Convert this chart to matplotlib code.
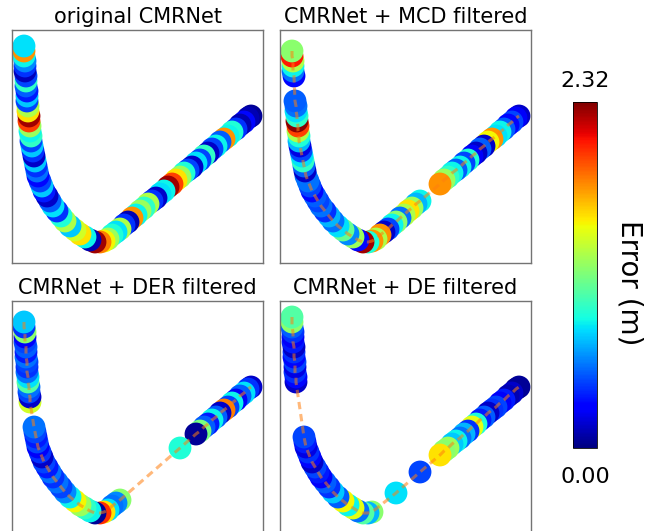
import numpy as np
import matplotlib
matplotlib.use("Agg")
import matplotlib.pyplot as plt
from matplotlib.colors import Normalize
from matplotlib.cm import ScalarMappable

nan = np.nan

# trajectory positions (same path for every panel), top-left start -> right end
path_x = [12, 12, 12, 13, 13, 13, 14, 14, 14, 15, 15, 15, 16, 16, 17, 17, 18, 18, 19, 19, 20, 21, 22, 23, 24, 25, 26,
          28, 30, 32, 35, 38, 41, 45, 49, 53, 58, 63, 68, 73, 78, 83, 88, 92,
          96, 100, 104, 108, 112, 116, 120, 124, 128, 132, 136, 140, 144, 148, 152, 156, 160, 164, 168, 172, 176,
          180, 184, 188, 192, 196, 200, 204, 208, 212, 216, 220, 224, 228, 232, 236, 239]
path_y = [16, 21, 26, 31, 36, 41, 46, 51, 56, 61, 66, 71, 76, 81, 86, 91, 96, 101, 106, 111, 116, 121, 126, 131, 136, 141, 146,
          151, 156, 161, 166, 171, 176, 181, 186, 191, 196, 200, 204, 207, 210, 212, 212, 211,
          209, 205, 202, 199, 195, 192, 188, 185, 181, 178, 174, 171, 168, 164, 161, 157, 154, 150, 147, 143, 140,
          137, 133, 130, 126, 123, 119, 116, 112, 109, 106, 102, 99, 95, 92, 88, 86]

# localisation error per position (m); nan = removed by the filter
err_orig = [0.80, 1.75, 0.85, 0.60, 0.40, 0.12, 0.45, 0.95, 0.50, 0.35, 0.75, 0.45, 1.30, 1.55, 2.25, 1.95, 1.25, 0.85,
            0.95, 0.45, 0.75, 0.40, 0.15, 0.75, 0.40, 0.55, 0.30,
            0.45, 0.75, 0.35, 0.15, 0.50, 0.80, 0.40, 0.90, 1.30, 0.75, 1.40, 1.55, 0.85, 0.10, 2.25, 1.80, 1.50,
            1.25, 0.90, 0.80, 1.30, 0.40, 0.10, 1.75, 0.85, 1.25, 0.95, 1.30, 0.40, 0.15, 0.80, 0.85, 2.25, 1.95,
            1.55, 1.25, 0.90, 0.45, 0.15, 0.80, 0.45, 0.95, 0.15, 0.45, 0.85, 0.50, 1.75, 0.85, 0.90, 0.40, 0.10,
            0.30, 0.10, 0.05]
err_mcd = [nan, 1.20, 2.05, 1.30, 0.85, 0.55, 0.30, nan, nan, nan, nan, 0.50, 0.55, 0.80, 0.95, 2.30, 1.95, 1.30,
           0.90, 0.70, 0.20, 0.45, 0.80, 0.95, 0.50, 0.15, 0.55,
           0.55, 0.45, 0.30, 0.50, 0.45, 0.55, 0.40, 0.70, 0.55, 0.80, 1.10, 0.60, 1.25, 0.30, 2.25, 0.90, 1.75,
           1.30, 1.75, 0.15, 0.45, 0.85, 1.20, 0.55, 1.30, 1.55, 1.25, 0.70, 0.85, nan, nan, nan, nan,
           1.75, 1.25, 0.95, 0.85, 0.50, 0.85, 0.45, 0.90, 0.25, 0.15, 0.50, 0.15, 1.50, 1.75, 0.80, 0.85, 0.50,
           0.30, 0.45, 0.25, 0.15]
err_der = [nan, 0.75, 0.40, 1.20, 0.25, 0.45, 0.50, 0.35, 0.55, 0.45, 0.40, 0.55, 0.80, 1.05, 0.55, 0.45, 0.15, 1.40,
           nan, nan, nan, nan, 0.55, 0.45, 0.35, 0.45, 0.25,
           0.40, 0.15, 0.45, 0.35, 0.55, 0.40, 0.55, 0.45, 0.60, 0.85, 1.50, 1.25, 0.95, 0.85, 0.05, 2.00, 1.55,
           0.80, 0.55, 0.60, 1.20, nan, nan, nan, nan, nan, nan, nan, nan, nan, nan, nan, nan, nan, nan,
           0.90, nan, nan, nan,
           0.05, 1.15, 0.50, 0.35, 0.85, 0.50, 0.15, 1.80, 0.45, 0.85, 0.25, 0.50, 0.80, 0.40, 0.15]
err_de = [1.05, 1.20, 0.50, 0.40, 0.25, 0.35, 0.15, 0.40, 0.30, 0.45, 0.20, 0.40, 0.30, 0.15,
          nan, nan, nan, nan, nan, nan, nan, nan, nan, nan, 0.45, 0.35, 0.20,
          0.40, 0.30, 0.15, 0.45, 0.35, 0.25, 0.50, 0.40, 0.75, 0.50, 1.50, 0.85, 1.45, 0.55, 1.05, 0.70, 1.20,
          nan, nan, nan, nan, nan, 0.80, nan, nan, nan, nan, nan, 0.45, nan, nan, nan, nan,
          1.55, 1.20, 1.25, 0.75, 0.85, 0.55, 0.70, 0.40, 1.45, 0.90, 0.35, 0.50, 0.15, 0.40, 0.45, 0.25, 0.35,
          0.10, 0.15, 0.05, 0.05]

titles = ["original CMRNet", "CMRNet + MCD filtered", "CMRNet + DER filtered", "CMRNet + DE filtered"]
errors = [err_orig, err_mcd, err_der, err_de]
show_line = [False, True, True, True]
err_max = 2.32

W, H = 659, 531
fig = plt.figure(figsize=(W / 100, H / 100), dpi=100)

# axes boxes in pixels: left, top, width, height
boxes = [(12, 30), (280, 30), (12, 301), (280, 301)]
aw, ah = 251, 233

norm = Normalize(0, err_max)
cmap = plt.get_cmap("jet")
px = np.array(path_x, dtype=float)
py = np.array(path_y, dtype=float)

for (l, t), title, err, line in zip(boxes, titles, errors, show_line):
    ax = fig.add_axes([l / W, (H - t - ah) / H, aw / W, ah / H])
    e = np.array(err, dtype=float)
    keep = ~np.isnan(e)
    # draw from the far end so the start of the path ends up on top
    ax.scatter(px[keep][::-1], py[keep][::-1], c=e[keep][::-1], cmap=cmap, norm=norm,
               s=270, linewidths=0, zorder=2)
    if line:
        ax.plot(px[keep], py[keep], color="C1", alpha=0.55, lw=2.2, ls="--",
                dashes=(2.4, 1.6), zorder=3)
    ax.set_xlim(0, aw)
    ax.set_ylim(ah, 0)
    ax.set_xticks([])
    ax.set_yticks([])
    for sp in ax.spines.values():
        sp.set_color("0.45")
        sp.set_linewidth(1.0)
    ax.set_title(title, fontsize=15, pad=5)

# colour bar
cax = fig.add_axes([573 / W, (H - 448) / H, 24 / W, 346 / H])
cb = fig.colorbar(ScalarMappable(norm=norm, cmap=cmap), cax=cax)
cb.set_ticks([])
cb.outline.set_linewidth(0.6)
cax.text(0.5, 1 + 15 / 346, "%.2f" % err_max, transform=cax.transAxes,
         ha="center", va="baseline", fontsize=16)
cax.text(0.5, -35 / 346, "%.2f" % 0.0, transform=cax.transAxes,
         ha="center", va="baseline", fontsize=16)
fig.text(630 / W, (H - 283) / H, "Error (m)", rotation=270, ha="center", va="center", fontsize=20)

fig.savefig("out.png", dpi=100)
